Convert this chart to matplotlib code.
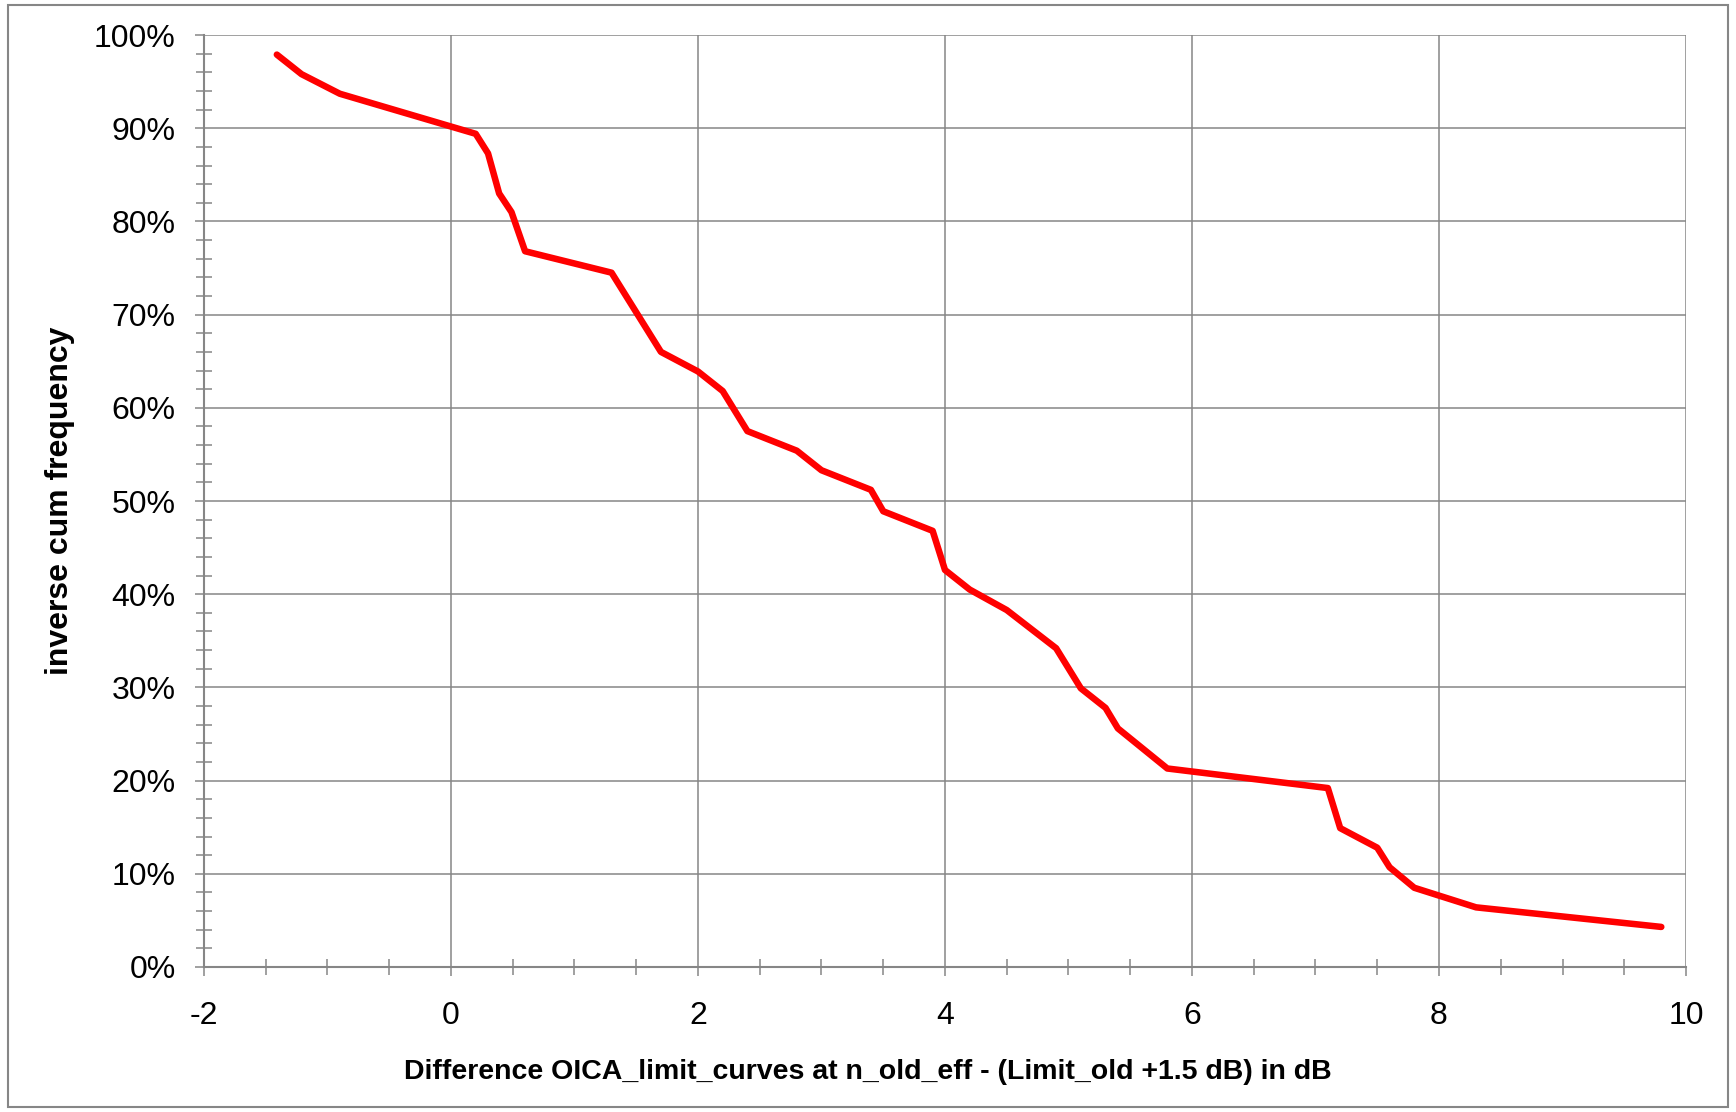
"""
Inverse cumulative frequency of the difference between OICA limit curves
and the old limit (+1.5 dB), drawn in the style of the original Excel chart.
"""

import matplotlib
matplotlib.use("Agg")
import matplotlib.pyplot as plt
from matplotlib import font_manager
from matplotlib.patches import Rectangle
from matplotlib.ticker import MultipleLocator, FuncFormatter

# values
diff_db = [-1.41, -1.21, -0.90, 0.20, 0.30, 0.39, 0.49, 0.60, 1.30, 1.70,
           2.00, 2.20, 2.40, 2.80, 3.00, 3.40, 3.50, 3.90, 4.00, 4.20,
           4.50, 4.90, 5.10, 5.30, 5.40, 5.80, 7.10, 7.20, 7.50, 7.60,
           7.80, 8.30, 9.80]
inv_cum_freq = [97.9, 95.8, 93.7, 89.4, 87.3, 83.0, 81.0, 76.8, 74.5, 66.0,
                63.9, 61.8, 57.5, 55.4, 53.3, 51.2, 48.9, 46.8, 42.6, 40.5,
                38.3, 34.2, 29.9, 27.8, 25.6, 21.3, 19.2, 14.9, 12.8, 10.7,
                8.5, 6.4, 4.3]

x_ticks = [-2, 0, 2, 4, 6, 8, 10]
y_ticks = [0, 10, 20, 30, 40, 50, 60, 70, 80, 90, 100]

x_label = "Difference OICA_limit_curves at n_old_eff - (Limit_old +1.5 dB) in dB"
y_label = "inverse cum frequency"

GRAY = "#868686"

plt.rcParams["font.family"] = ["Liberation Sans", "DejaVu Sans"]
plt.rcParams["axes.unicode_minus"] = False

# Excel squeezes the bold axis titles; a narrow face gets closest to that
installed = {f.name for f in font_manager.fontManager.ttflist}
if "Liberation Sans Narrow" in installed:
    title_font = dict(family=["Liberation Sans Narrow", "Liberation Sans"])
    x_title_size, y_title_size = 25, 27
else:
    title_font = dict(family=["Liberation Sans", "DejaVu Sans"])
    x_title_size, y_title_size = 20.5, 23

fig = plt.figure(figsize=(17.36, 11.12), dpi=100)
ax = fig.add_axes([0.1175, 0.1304, 0.9712 - 0.1175, 0.9685 - 0.1304])

ax.plot(diff_db, inv_cum_freq, color="#FF0000", linewidth=4.7,
        solid_joinstyle="round", solid_capstyle="round", zorder=3)

ax.set_xlim(-2, 10)
ax.set_ylim(0, 100)
ax.set_xticks(x_ticks)
ax.set_yticks(y_ticks)
ax.xaxis.set_minor_locator(MultipleLocator(0.5))
ax.yaxis.set_minor_locator(MultipleLocator(2))
ax.yaxis.set_major_formatter(FuncFormatter(lambda v, pos: f"{v:.0f}%"))

ax.grid(True, which="major", color=GRAY, linewidth=1.1)
ax.set_axisbelow(True)

for side in ["top", "right"]:
    ax.spines[side].set_visible(False)
for side in ["left", "bottom"]:
    ax.spines[side].set_color(GRAY)
    ax.spines[side].set_linewidth(1.5)

ax.tick_params(which="major", direction="out", length=6.5, width=1.1,
               color=GRAY, labelsize=23, labelcolor="black")
ax.tick_params(axis="y", which="major", pad=14)
ax.tick_params(axis="x", which="major", pad=18)
ax.tick_params(which="minor", direction="inout", length=11.5, width=1.1,
               color=GRAY)

fig.text(0.0346, 0.5494, y_label, fontsize=y_title_size, fontweight="bold",
         rotation=90, ha="center", va="center", **title_font)
fig.text(0.5, 0.036, x_label, fontsize=x_title_size, fontweight="bold",
         ha="center", va="center", **title_font)

# thin gray frame around the whole chart area
fig.patches.append(Rectangle((0.0046, 0.0045), 0.9908, 0.991,
                             transform=fig.transFigure, fill=False,
                             edgecolor=GRAY, linewidth=1.5))

fig.savefig("out.png", dpi=100)
